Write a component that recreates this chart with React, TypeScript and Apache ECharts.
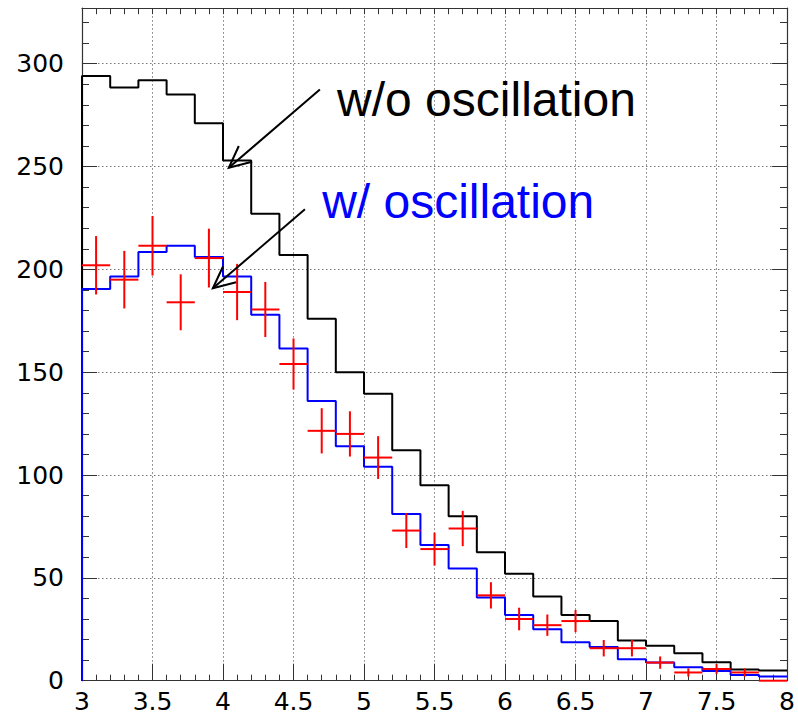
import React, { useEffect, useRef } from "react";
import * as echarts from "echarts";

// Bin left edges (bin width 0.2) and right end of the histogram range
const binLeft = [3.0, 3.2, 3.4, 3.6, 3.8, 4.0, 4.2, 4.4, 4.6, 4.8, 5.0, 5.2, 5.4, 5.6, 5.8, 6.0, 6.2, 6.4, 6.6, 6.8, 7.0, 7.2, 7.4, 7.6, 7.8];
const binRight = 8.0;
const binHalfWidth = 0.1;

// Histogram without oscillation (black)
const noOsc = [294, 288.5, 292, 285, 271, 253, 227, 207, 176, 150, 139.5, 112, 95, 80, 62.5, 52, 41, 32, 29, 19.5, 17, 13.3, 9, 5.5, 5];
// Histogram with oscillation (blue)
const withOsc = [190.5, 196.5, 208.5, 211.5, 206, 196.5, 178, 161.5, 136, 114, 104, 81, 66, 54.5, 40.5, 32, 25, 18.7, 16.4, 10.4, 8.8, 6.5, 4.7, 2.8, 2];

// Red data points (bin centres, values, errors)
const dataX = [3.1, 3.3, 3.5, 3.7, 3.9, 4.1, 4.3, 4.5, 4.7, 4.9, 5.1, 5.3, 5.5, 5.7, 5.9, 6.1, 6.3, 6.5, 6.7, 6.9, 7.1, 7.3, 7.5, 7.7, 7.9];
const dataY = [202, 195, 211.5, 184, 205.5, 189, 180.5, 154, 121.5, 120, 108.5, 73, 64, 74, 41.5, 30, 27, 29, 15.8, 15.8, 8.8, 4, 5.7, 4, 0];
const dataErr = [14.2, 14, 14.5, 13.6, 14.3, 13.7, 13.4, 12.4, 11, 11, 10.4, 8.5, 8, 8.6, 6.4, 5.5, 5.2, 5.4, 4, 4, 3, 2, 2.4, 2, 0];

// Axis ranges
const xMin = 3;
const xMax = 8;
const yMin = 0;
const yMax = 327;

// Annotations (data coordinates)
const labelWo = { text: "w/o oscillation", x: 4.809, y: 282.8, color: "#000000" };
const labelW = { text: "w/ oscillation", x: 4.703, y: 232.8, color: "#0000ff" };
const arrowWo = { from: [4.687, 287.5], tip: [4.041, 249.4], barbA: [4.112, 260], barbB: [4.206, 252.3] };
const arrowW = { from: [4.581, 229.2], tip: [3.928, 190.8], barbA: [3.999, 201.3], barbB: [4.093, 193.7] };

function histData(vals: number[]) {
  const d: number[][] = [[binLeft[0], 0]];
  binLeft.forEach((x, i) => d.push([x, vals[i]]));
  d.push([binRight, vals[vals.length - 1]]);
  return d;
}

export default function App() {
  const ref = useRef<HTMLDivElement>(null);
  useEffect(() => {
    if (!ref.current) return;
    const chart = echarts.init(ref.current, undefined, { renderer: "svg" });
    const axisColor = "#333";
    const gridLine = { show: true, lineStyle: { color: "#777", width: 1, type: [1.5, 2.5] as any } };
    const yCommon = { type: "value", min: yMin, max: yMax, axisLabel: { show: false }, splitLine: { show: false } };
    const option: any = {
      animation: false,
      grid: { left: 82, right: 8.5, top: 8.2, bottom: 34.3, containLabel: false },
      xAxis: [
        {
          type: "value", position: "bottom", min: xMin, max: xMax, interval: 0.5,
          axisLine: { show: true, onZero: false, lineStyle: { color: axisColor, width: 1.2 } },
          axisTick: { show: true, inside: true, length: 17, lineStyle: { color: axisColor } },
          minorTick: { show: true, splitNumber: 5, length: 6, lineStyle: { color: axisColor } },
          axisLabel: { show: true, margin: 11, lineHeight: 20, color: "#000", fontSize: 25, fontFamily: "DejaVu Sans", showMaxLabel: true },
          splitLine: gridLine,
        },
        {
          type: "value", position: "top", min: xMin, max: xMax, interval: 0.5,
          axisLine: { show: true, onZero: false, lineStyle: { color: axisColor, width: 1.2 } },
          axisTick: { show: true, inside: true, length: 6, lineStyle: { color: axisColor } },
          minorTick: { show: true, splitNumber: 5, length: 6, lineStyle: { color: axisColor } },
          axisLabel: { show: false },
          splitLine: { show: false },
        },
      ],
      yAxis: [
        {
          type: "value", position: "left", min: yMin, max: yMax, interval: 50,
          axisLine: { show: true, onZero: false, lineStyle: { color: axisColor, width: 1.2 } },
          axisTick: { show: true, inside: true, length: 15, lineStyle: { color: axisColor } },
          axisLabel: { show: true, margin: 18, color: "#000", fontSize: 25, fontFamily: "DejaVu Sans", showMaxLabel: false },
          splitLine: gridLine,
        },
        {
          ...yCommon, position: "left", interval: 10,
          axisLine: { show: false },
          axisTick: { show: true, inside: true, length: 7, lineStyle: { color: axisColor } },
        },
        {
          ...yCommon, position: "right", interval: 50,
          axisLine: { show: true, onZero: false, lineStyle: { color: axisColor, width: 1.2 } },
          axisTick: { show: true, inside: true, length: 15, lineStyle: { color: axisColor } },
        },
        {
          ...yCommon, position: "right", interval: 10,
          axisLine: { show: false },
          axisTick: { show: true, inside: true, length: 7, lineStyle: { color: axisColor } },
        },
      ],
      series: [
        {
          type: "line", name: "w/o oscillation", xAxisIndex: 0, yAxisIndex: 0,
          step: "end", showSymbol: false, symbol: "none",
          lineStyle: { color: "#000", width: 2 },
          data: histData(noOsc), z: 2,
        },
        {
          type: "line", name: "w/ oscillation", xAxisIndex: 0, yAxisIndex: 0,
          step: "end", showSymbol: false, symbol: "none",
          lineStyle: { color: "#0000ff", width: 2 },
          data: histData(withOsc), z: 3,
        },
        {
          type: "custom", name: "data", xAxisIndex: 0, yAxisIndex: 0, z: 4, clip: false,
          data: dataX.map((x, i) => [x, dataY[i], dataErr[i]]),
          renderItem: (params: any, api: any) => {
            const x = api.value(0);
            const y = api.value(1);
            const e = api.value(2);
            const l = api.coord([x - binHalfWidth, y]);
            const r = api.coord([x + binHalfWidth, y]);
            const t = api.coord([x, y + e]);
            const b = api.coord([x, y - e]);
            const style = { stroke: "#ff0000", lineWidth: 2 };
            const children: any[] = [
              { type: "line", shape: { x1: l[0], y1: l[1], x2: r[0], y2: r[1] }, style },
            ];
            if (e > 0) children.push({ type: "line", shape: { x1: t[0], y1: t[1], x2: b[0], y2: b[1] }, style });
            return { type: "group", children };
          },
        },
      ],
    };
    chart.setOption(option);

    const px = (p: number[]) => chart.convertToPixel({ xAxisIndex: 0, yAxisIndex: 0 }, p) as number[];
    const arrow = (a: any) => [
      { type: "line", shape: { x1: px(a.from)[0], y1: px(a.from)[1], x2: px(a.tip)[0], y2: px(a.tip)[1] }, style: { stroke: "#000", lineWidth: 2 }, z: 10 },
      { type: "polyline", shape: { points: [px(a.barbA), px(a.tip), px(a.barbB)] }, style: { stroke: "#000", lineWidth: 2, fill: null }, z: 10 },
    ];
    const label = (lb: any) => {
      const p = px([lb.x, lb.y]);
      return {
        type: "text", x: p[0], y: p[1], z: 10,
        style: { text: lb.text, fill: lb.color, fontSize: 48, fontFamily: "Liberation Sans, Arial, sans-serif", align: "left", verticalAlign: "middle" },
      };
    };
    chart.setOption({ graphic: [...arrow(arrowWo), ...arrow(arrowW), label(labelWo), label(labelW)] });

    return () => chart.dispose();
  }, []);
  return <div ref={ref} style={{ position: "fixed", left: 0, top: 0, width: 798, height: 715, background: "#fff" }} />;
}
